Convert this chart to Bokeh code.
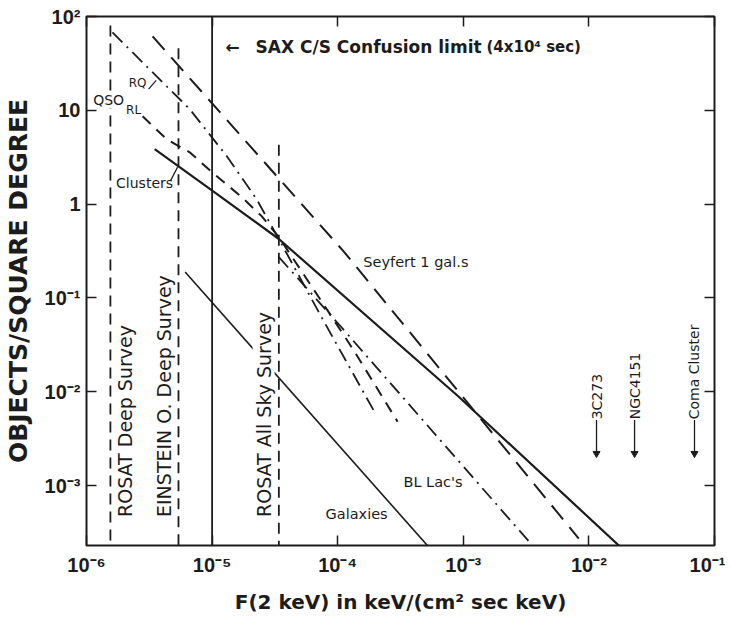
import numpy as np
from bokeh.plotting import figure
from bokeh.models import LogAxis, FixedTicker, Span
from bokeh.core.properties import value
from bokeh.embed import file_html
from bokeh.resources import INLINE

# ---------------- data ----------------
x_ticks = [1e-6, 1e-5, 1e-4, 1e-3, 1e-2, 1e-1]
x_tick_labels = ["10⁻⁶", "10⁻⁵", "10⁻⁴", "10⁻³", "10⁻²", "10⁻¹"]
y_ticks = [1e-3, 1e-2, 1e-1, 1.0, 10.0, 100.0]
y_tick_labels = ["10⁻³", "10⁻²", "10⁻¹", "1", "10", "10²"]

# N(>S) per square degree versus flux F(2 keV)
qso_rq_flux = [1.61e-6, 3.62e-6, 6.63e-6, 1.31e-5, 2.26e-5, 3.4e-5, 7.34e-5, 1.94e-4]
qso_rq_n = [67.6, 23.0, 10.3, 3.24, 1.13, 0.425, 0.0644, 6.28e-3]
qso_rl_flux = [2.8e-6, 4.35e-6, 6.63e-6, 1.0e-5, 1.72e-5, 2.48e-5, 3.4e-5, 8.35e-5, 1.35e-4, 3.0e-4]
qso_rl_n = [8.63, 4.91, 3.57, 2.19, 1.19, 0.745, 0.446, 0.0728, 0.0273, 4.8e-3]
clusters_flux = [3.49e-6, 9.9e-6, 3.4e-5, 9.2e-4, 1.8e-2]
clusters_n = [3.85, 1.41, 0.425, 8.85e-3, 2.19e-4]
seyfert_flux = [3.36e-6, 1.11e-4, 8.3e-3]
seyfert_n = [61.3, 0.316, 2.73e-4]
bllac_flux = [3.4e-5, 1.1e-4, 3.45e-3]
bllac_n = [0.273, 0.0468, 2.41e-4]
galaxies_flux = [6.1e-6, 5.35e-4]
galaxies_n = [0.189, 2.19e-4]

survey_names = ["ROSAT Deep Survey", "EINSTEIN O. Deep Survey", "ROSAT All Sky Survey"]
survey_flux = [1.55e-6, 5.4e-6, 3.4e-5]
survey_top = [80.0, 46.0, 4.3]
sax_limit_flux = 1e-5

bright_sources = ["3C273", "NGC4151", "Coma Cluster"]
bright_flux = [1.15e-2, 2.31e-2, 6.93e-2]

# ---------------- figure ----------------
INK = "#1c1c1c"
FONT = value("DejaVu Sans")

p = figure(width=725, height=616, x_axis_type="log", y_axis_type="log",
           x_range=(1e-6, 1e-1), y_range=(2.3e-4, 100),
           output_backend="svg", toolbar_location=None,
           min_border_left=86, min_border_right=11, min_border_top=16, min_border_bottom=69)
p.grid.visible = False
p.outline_line_color = INK
p.outline_line_width = 2
p.background_fill_color = "white"
p.border_fill_color = "white"

def style_axis(ax, ticks, show_labels, overrides=None):
    ax.ticker = FixedTicker(ticks=ticks)
    ax.axis_line_color = None
    ax.major_tick_in = 10
    ax.major_tick_out = 0
    ax.major_tick_line_color = INK
    ax.major_tick_line_width = 1.5
    ax.minor_tick_line_color = None
    if show_labels:
        ax.major_label_overrides = overrides
        ax.major_label_text_font = "Liberation Sans"
        ax.major_label_text_font_style = "bold"
        ax.major_label_text_font_size = "20px"
        ax.major_label_text_color = INK
    else:
        ax.major_label_text_font_size = "1px"
        ax.major_label_text_alpha = 0
        ax.major_label_standoff = 0

style_axis(p.xaxis[0], x_ticks, True, dict(zip(x_ticks, x_tick_labels)))
style_axis(p.yaxis[0], y_ticks, True, dict(zip(y_ticks, y_tick_labels)))
p.xaxis[0].major_label_standoff = 8
p.yaxis[0].major_label_standoff = 6

p.xaxis[0].axis_label = "F(2 keV) in keV/(cm² sec keV)"
p.yaxis[0].axis_label = "OBJECTS/SQUARE DEGREE"
for ax in (p.xaxis[0], p.yaxis[0]):
    ax.axis_label_text_font = "DejaVu Sans"
    ax.axis_label_text_font_style = "bold"
    ax.axis_label_text_color = INK
p.xaxis[0].axis_label_text_font_size = "20px"
p.xaxis[0].axis_label_standoff = 11
p.yaxis[0].axis_label_text_font_size = "25px"
p.yaxis[0].axis_label_standoff = 9

top_ax = LogAxis()
style_axis(top_ax, x_ticks, False)
p.add_layout(top_ax, "above")
right_ax = LogAxis()
style_axis(right_ax, y_ticks, False)
p.add_layout(right_ax, "right")

# ---------------- survey limits ----------------
p.segment(x0=survey_flux, y0=survey_top, x1=survey_flux, y1=[1e-4] * 3,
          line_color=INK, line_width=1.8, line_dash="11 7")
p.add_layout(Span(location=sax_limit_flux, dimension="height",
                  line_color=INK, line_width=1.8))

# ---------------- curves ----------------
p.line(qso_rq_flux, qso_rq_n, line_color=INK, line_width=1.8, line_dash="14 6 2 6")
p.line(qso_rl_flux, qso_rl_n, line_color=INK, line_width=2, line_dash="11 8")
p.line(clusters_flux, clusters_n, line_color=INK, line_width=2.2)
p.line(seyfert_flux, seyfert_n, line_color=INK, line_width=2, line_dash="18 10")
p.line(bllac_flux, bllac_n, line_color=INK, line_width=1.8, line_dash="14 6 2 6")
p.line(galaxies_flux, galaxies_n, line_color=INK, line_width=1.6)

# ---------------- labels ----------------
p.text(x=[2.04e-6, 4.12e-6, 2.57e-5], y=[4.63e-4] * 3, text=survey_names,
       angle=np.pi / 2, text_align="left", text_baseline="middle",
       text_font=FONT, text_font_size="19px", text_color=INK,
       background_fill_color="white")

p.text(x=[1.28e-5], y=[46.9], text=["←"],
       text_align="left", text_baseline="middle", text_font=FONT,
       text_font_style="bold", text_font_size="17px", text_color=INK)
p.text(x=[2.22e-5], y=[46.9], text=["SAX C/S  Confusion limit"],
       text_align="left", text_baseline="middle", text_font=FONT,
       text_font_style="bold", text_font_size="17px", text_color=INK)
p.text(x=[1.53e-3], y=[46.9], text=["(4x10⁴ sec)"],
       text_align="left", text_baseline="middle", text_font=FONT,
       text_font_style="bold", text_font_size="15px", text_color=INK)

p.text(x=[1.50e-6], y=[12.8], text=["QSO"], text_align="center",
       text_baseline="middle", text_font=FONT, text_font_size="14px",
       text_color=INK, background_fill_color="white")
p.text(x=[2.55e-6, 2.37e-6], y=[19.4, 10.0], text=["RQ", "RL"], text_align="center",
       text_baseline="middle", text_font=FONT, text_font_size="12px", text_color=INK)
p.text(x=[2.90e-6], y=[1.68], text=["Clusters"], text_align="center",
       text_baseline="middle", text_font=FONT, text_font_size="14px", text_color=INK)
p.segment(x0=[3.12e-6, 4.66e-6], y0=[16.8, 1.77], x1=[3.59e-6, 5.31e-6], y1=[20.9, 2.48],
          line_color=INK, line_width=1.2)
p.text(x=[1.60e-4, 3.34e-4, 8.0e-5], y=[0.243, 1.09e-3, 4.98e-4],
       text=["Seyfert 1 gal.s", "BL Lac's", "Galaxies"], text_align="left",
       text_baseline="middle", text_font=FONT, text_font_size="14.5px", text_color=INK)

p.text(x=bright_flux, y=[5.09e-3] * 3, text=bright_sources, angle=np.pi / 2,
       text_align="left", text_baseline="middle", text_font=FONT,
       text_font_size="14px", text_color=INK)
p.segment(x0=bright_flux, y0=[5.0e-3] * 3, x1=bright_flux, y1=[2.2e-3] * 3,
          line_color=INK, line_width=1.3)
p.scatter(x=bright_flux, y=[2.2e-3] * 3, marker="triangle", size=7, angle=np.pi,
          fill_color=INK, line_color=INK)

open("out.html", "w").write(file_html(p, INLINE))
